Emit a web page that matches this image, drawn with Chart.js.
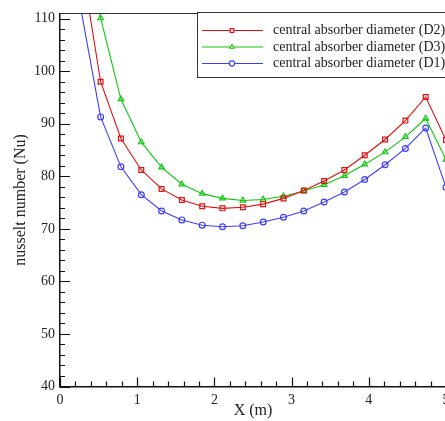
<!DOCTYPE html>
<html lang="en">
<head>
    <meta charset="UTF-8">
    <title>Nusselt number along X</title>
    <script src="https://cdn.jsdelivr.net/npm/chart.js"></script>
    <style>
        body {
            margin: 0;
            padding: 0;
            background: #fff;
            overflow: hidden;
        }
        #wrap {
            width: 470px;
            height: 421px;
        }
    </style>
</head>
<body>
    <div id="wrap"><canvas id="nuChart" width="470" height="421"></canvas></div>

    <script>
        // positions along the absorber (m)
        const xPos = [0.263, 0.526, 0.789, 1.053, 1.316, 1.579, 1.842, 2.105, 2.368, 2.632,
                      2.895, 3.158, 3.421, 3.684, 3.947, 4.211, 4.474, 4.737, 5.0];

        // Nusselt number for each diameter
        const nuD2 = [122.1, 98.0, 87.2, 81.2, 77.6, 75.5, 74.3, 73.9, 74.1, 74.7,
                      75.8, 77.3, 79.1, 81.2, 84.0, 87.0, 90.6, 95.1, 86.9];
        const nuD3 = [135.0, 110.1, 94.7, 86.5, 81.7, 78.5, 76.7, 75.8, 75.4, 75.6,
                      76.2, 77.2, 78.4, 80.1, 82.3, 84.6, 87.5, 91.0, 83.2];
        const nuD1 = [112.4, 91.3, 81.8, 76.5, 73.4, 71.7, 70.7, 70.4, 70.6, 71.3,
                      72.2, 73.4, 75.1, 77.0, 79.4, 82.2, 85.3, 89.2, 77.9];

        const seriesLabels = ['central absorber diameter (D2)', 'central absorber diameter (D3)', 'central absorber diameter (D1)'];
        const xTicks = [0, 1, 2, 3, 4, 5];
        const yTicks = [40, 50, 60, 70, 80, 90, 100, 110];

        const serif = "'Liberation Serif', 'DejaVu Serif', serif";

        function pts(ys) {
            return ys.map((y, i) => ({ x: xPos[i], y: y }));
        }

        // inward major/minor tick marks + top frame line
        const frameTicks = {
            id: 'frameTicks',
            afterDatasetsDraw(chart) {
                const { ctx, chartArea: a, scales: { x, y } } = chart;
                ctx.save();
                ctx.strokeStyle = '#111';
                ctx.lineWidth = 1.2;
                ctx.beginPath();
                for (let k = 0; k <= 25; k++) {
                    const v = k * 0.2;
                    const px = Math.round(x.getPixelForValue(v)) + 0.5;
                    const len = (k % 5 === 0) ? 9 : 5;
                    ctx.moveTo(px, a.bottom);
                    ctx.lineTo(px, a.bottom - len);
                }
                for (let v = 40; v <= 110; v += 2) {
                    const py = Math.round(y.getPixelForValue(v)) + 0.5;
                    const len = (v % 10 === 0) ? 10 : 5;
                    ctx.moveTo(a.left, py);
                    ctx.lineTo(a.left + len, py);
                }
                ctx.stroke();
                // top frame
                ctx.strokeStyle = '#333';
                ctx.lineWidth = 1;
                ctx.beginPath();
                ctx.moveTo(a.left, Math.round(a.top) + 0.5);
                ctx.lineTo(a.right + 20, Math.round(a.top) + 0.5);
                ctx.stroke();
                ctx.restore();
            }
        };

        // boxed legend with line + marker samples
        const boxLegend = {
            id: 'boxLegend',
            afterDraw(chart) {
                const ctx = chart.ctx;
                const rowsY = [30.5, 47, 63.5];
                ctx.save();
                ctx.fillStyle = '#fff';
                ctx.fillRect(197.5, 12, 280, 65);
                ctx.strokeStyle = '#333';
                ctx.lineWidth = 1;
                ctx.strokeRect(197.5, 12.5, 280, 65);
                chart.data.datasets.forEach((ds, i) => {
                    const yy = rowsY[i];
                    ctx.strokeStyle = ds.borderColor;
                    ctx.lineWidth = 1.1;
                    ctx.beginPath();
                    ctx.moveTo(202, yy);
                    ctx.lineTo(263, yy);
                    ctx.stroke();
                    ctx.fillStyle = '#fff';
                    ctx.strokeStyle = ds.borderColor;
                    Chart.helpers.drawPoint(ctx, {
                        pointStyle: ds.pointStyle,
                        radius: 2.6,
                        rotation: 0,
                        borderWidth: 1
                    }, 232, yy);
                    ctx.fillStyle = '#222';
                    ctx.font = '14px ' + serif;
                    ctx.textBaseline = 'middle';
                    ctx.textAlign = 'left';
                    ctx.fillText(seriesLabels[i], 273, yy);
                });
                ctx.restore();
            }
        };

        function makeSet(label, data, color, style, r) {
            return {
                label: label,
                data: pts(data),
                borderColor: color,
                backgroundColor: color,
                borderWidth: 1.1,
                pointStyle: style,
                pointRadius: r,
                pointBorderColor: color,
                pointBackgroundColor: 'rgba(255,255,255,0)',
                pointBorderWidth: 1.2,
                tension: 0
            };
        }

        const ctx = document.getElementById('nuChart').getContext('2d');
        new Chart(ctx, {
            type: 'line',
            data: {
                datasets: [
                    makeSet(seriesLabels[0], nuD2, '#e01010', 'rect', 3.4),
                    makeSet(seriesLabels[1], nuD3, '#10c810', 'triangle', 3.2),
                    makeSet(seriesLabels[2], nuD1, '#3c3cff', 'circle', 2.9)
                ]
            },
            options: {
                responsive: false,
                animation: false,
                layout: { padding: { top: 12, right: 24, left: 0, bottom: 0 } },
                plugins: {
                    legend: { display: false },
                    tooltip: { enabled: false }
                },
                scales: {
                    x: {
                        type: 'linear',
                        min: 0,
                        max: 5,
                        afterFit(scale) { scale.height = 34.5; },
                        afterBuildTicks(scale) { scale.ticks = xTicks.map(v => ({ value: v })); },
                        grid: { display: false, drawTicks: false },
                        border: { display: true, color: '#111', width: 1.5 },
                        ticks: {
                            padding: 5,
                            color: '#222',
                            font: { family: serif, size: 14 },
                            maxRotation: 0
                        },
                        title: {
                            display: true,
                            text: 'X (m)',
                            color: '#222',
                            font: { family: serif, size: 16 },
                            padding: { top: 0, bottom: 1 }
                        }
                    },
                    y: {
                        type: 'linear',
                        min: 40,
                        max: 111,
                        afterFit(scale) { scale.width = 60; },
                        afterBuildTicks(scale) { scale.ticks = yTicks.map(v => ({ value: v })); },
                        grid: { display: false, drawTicks: false },
                        border: { display: true, color: '#111', width: 1.5 },
                        ticks: {
                            padding: 5,
                            color: '#222',
                            font: { family: serif, size: 14 }
                        },
                        title: {
                            display: true,
                            text: 'nusselt number (Nu)',
                            color: '#222',
                            font: { family: serif, size: 16 },
                            padding: { top: 11, bottom: 0 }
                        }
                    }
                }
            },
            plugins: [frameTicks, boxLegend]
        });
    </script>
</body>
</html>
